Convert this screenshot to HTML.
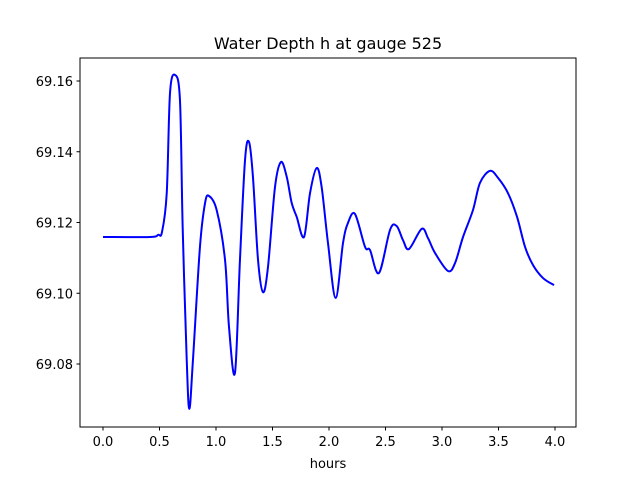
<!DOCTYPE html>
<html><head><meta charset="utf-8"><style>
body{margin:0;background:#fff;}
svg text{font-family:"DejaVu Sans","Liberation Sans",sans-serif;fill:#000;}
</style></head><body>
<svg id="chart" width="640" height="480" xmlns="http://www.w3.org/2000/svg">
<rect width="640" height="480" fill="#fff"/>
<text x="328" y="49" font-size="16" text-anchor="middle">Water Depth h at gauge 525</text>
<g id="ticks"></g>
<path id="line" fill="none" stroke="#0000ff" stroke-width="2"/>
<rect x="80" y="58" width="496" height="369" fill="none" stroke="#000" stroke-width="1"/>
<text x="328" y="468" font-size="13" text-anchor="middle">hours</text>
</svg>
<script>
const hours=[0,0.416,0.487,0.522,0.564,0.593,0.637,0.681,0.705,0.741,0.764,0.796,0.858,0.903,0.938,1.006,1.080,1.115,1.168,1.212,1.257,1.292,1.327,1.372,1.416,1.460,1.522,1.575,1.626,1.670,1.714,1.779,1.832,1.891,1.935,1.991,2.059,2.124,2.168,2.230,2.319,2.363,2.442,2.540,2.599,2.655,2.708,2.820,2.876,2.938,3.053,3.115,3.186,3.274,3.336,3.425,3.496,3.584,3.664,3.735,3.805,3.894,3.991];
const depth=[69.1159,69.1159,69.1165,69.1173,69.1283,69.1566,69.1617,69.1546,69.1187,69.0811,69.0673,69.0811,69.1131,69.1255,69.1275,69.1235,69.1094,69.0905,69.0775,69.1094,69.1377,69.1428,69.1329,69.1094,69.1003,69.1074,69.1300,69.1371,69.1329,69.1255,69.1216,69.1159,69.1283,69.1354,69.1300,69.1142,69.0987,69.1142,69.1199,69.1224,69.1131,69.1122,69.1057,69.1179,69.1190,69.1150,69.1125,69.1182,69.1156,69.1114,69.1063,69.1085,69.1159,69.1235,69.1312,69.1346,69.1326,69.1283,69.1216,69.1131,69.1080,69.1043,69.1023];
const xTicks=[0,0.5,1,1.5,2,2.5,3,3.5,4];
const xTickLabels=["0.0","0.5","1.0","1.5","2.0","2.5","3.0","3.5","4.0"];
const yTicks=[69.08,69.10,69.12,69.14,69.16];
const yTickLabels=["69.08","69.10","69.12","69.14","69.16"];
const X=h=>103+h*113;
const Y=d=>81+(69.16-d)*3537.5;
const ns="http://www.w3.org/2000/svg";
const g=document.getElementById('ticks');
xTicks.forEach((t,i)=>{
 const l=document.createElementNS(ns,'line');
 l.setAttribute('x1',X(t));l.setAttribute('x2',X(t));l.setAttribute('y1',427);l.setAttribute('y2',430.5);l.setAttribute('stroke','#000');
 
 
 g.appendChild(l);
 const tx=document.createElementNS(ns,'text');
 tx.setAttribute('x',X(t));tx.setAttribute('y',446);tx.setAttribute('font-size','13');tx.setAttribute('text-anchor','middle');
 tx.textContent=xTickLabels[i];
 
 
 g.appendChild(tx);
});
yTicks.forEach((t,i)=>{
 const l=document.createElementNS(ns,'line');
 l.setAttribute('x1',76.5);l.setAttribute('x2',80);l.setAttribute('y1',Y(t));l.setAttribute('y2',Y(t));l.setAttribute('stroke','#000');
 
 
 g.appendChild(l);
 const tx=document.createElementNS(ns,'text');
 tx.setAttribute('x',73);tx.setAttribute('y',Y(t)+5);tx.setAttribute('font-size','13');tx.setAttribute('text-anchor','end');
 tx.textContent=yTickLabels[i];
 
 
 g.appendChild(tx);
});
const pts=hours.map((h,i)=>[X(h),Y(depth[i])]);
let d='M'+pts[0][0]+','+pts[0][1];
for(let i=0;i<pts.length-1;i++){
 const p0=pts[Math.max(0,i-1)],p1=pts[i],p2=pts[i+1],p3=pts[Math.min(pts.length-1,i+2)];
 const c1=[p1[0]+(p2[0]-p0[0])/6,p1[1]+(p2[1]-p0[1])/6];
 const c2=[p2[0]-(p3[0]-p1[0])/6,p2[1]-(p3[1]-p1[1])/6];
 d+=' C'+c1[0]+','+c1[1]+' '+c2[0]+','+c2[1]+' '+p2[0]+','+p2[1];
}
document.getElementById('line').setAttribute('d',d);
</script>
</body></html>
